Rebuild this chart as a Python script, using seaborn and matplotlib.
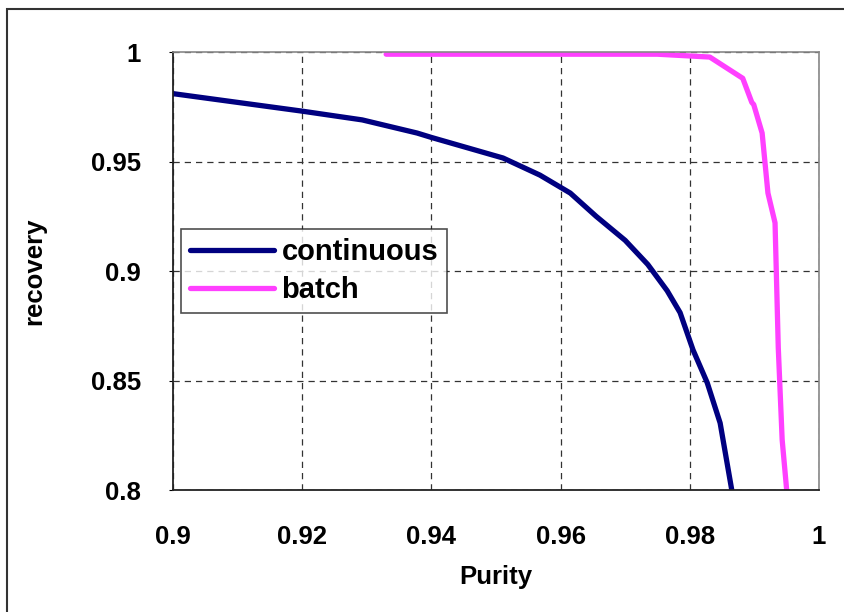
import matplotlib
matplotlib.use("Agg")
import matplotlib.pyplot as plt
import seaborn as sns
import pandas as pd
from matplotlib.patches import Rectangle

# values
cont_purity = [0.900, 0.910, 0.920, 0.9293, 0.9378, 0.940, 0.9511, 0.9568, 0.9615,
               0.9655, 0.970, 0.9735, 0.9765, 0.9785, 0.9805, 0.9827, 0.9847, 0.9865]
cont_recovery = [0.981, 0.977, 0.973, 0.969, 0.963, 0.961, 0.9516, 0.9438, 0.9356,
                 0.925, 0.914, 0.903, 0.891, 0.881, 0.864, 0.849, 0.8306, 0.800]

batch_purity = [0.933, 0.950, 0.975, 0.9831, 0.9882, 0.9896, 0.9899, 0.9912, 0.9921,
                0.9932, 0.9937, 0.9943, 0.9950]
batch_recovery = [0.999, 0.999, 0.999, 0.9977, 0.988, 0.977, 0.976, 0.963, 0.9356,
                  0.922, 0.865, 0.823, 0.800]

x_ticks = [0.9, 0.92, 0.94, 0.96, 0.98, 1]
x_tick_labels = ["0.9", "0.92", "0.94", "0.96", "0.98", "1"]
y_ticks = [0.8, 0.85, 0.9, 0.95, 1]
y_tick_labels = ["0.8", "0.85", "0.9", "0.95", "1"]

df = pd.concat([
    pd.DataFrame({"Purity": cont_purity, "recovery": cont_recovery, "series": "continuous"}),
    pd.DataFrame({"Purity": batch_purity, "recovery": batch_recovery, "series": "batch"}),
])

sns.set_style("white")
plt.rcParams['font.family'] = ['Liberation Sans Narrow', 'Liberation Sans', 'DejaVu Sans']
plt.rcParams['font.weight'] = 'bold'
plt.rcParams['text.color'] = 'black'
plt.rcParams['axes.labelcolor'] = 'black'
plt.rcParams['xtick.color'] = 'black'
plt.rcParams['ytick.color'] = 'black'

fig = plt.figure(figsize=(8.45, 6.12), dpi=100)
ax = fig.add_axes([0.2047, 0.1993, 0.7645, 0.7157])

# outer frame of the chart area (only top/left visible in the reference)
fig.patches.append(Rectangle((7 / 845, -0.1), 1.2, 1 - 9 / 612 + 0.1,
                             transform=fig.transFigure, fill=False,
                             edgecolor='#333333', linewidth=1.5))

sns.lineplot(data=df, x="Purity", y="recovery", hue="series", sort=False,
             palette={"continuous": "#000080", "batch": "#FF40FF"},
             linewidth=3.8, ax=ax, legend=False)

ax.set_xlim(0.9, 1.0)
ax.set_ylim(0.8, 1.0)
ax.set_xticks(x_ticks)
ax.set_xticklabels(x_tick_labels)
ax.set_yticks(y_ticks)
ax.set_yticklabels(y_tick_labels)
ax.tick_params(labelsize=18.5, length=3, direction='out', left=True, bottom=False)
ax.tick_params(axis='x', pad=22)
ax.tick_params(axis='y', pad=20)
ax.grid(True, linestyle=(0, (5, 4)), color='#333333', linewidth=0.9)

for s in ['left', 'bottom']:
    ax.spines[s].set_color('#222222')
    ax.spines[s].set_linewidth(1.3)
for s in ['top', 'right']:
    ax.spines[s].set_color('#888888')
    ax.spines[s].set_linewidth(1.2)

ax.set_xlabel("Purity", fontsize=18.5, fontweight='bold', labelpad=12)
ax.set_ylabel("recovery", fontsize=18.5, fontweight='bold', labelpad=32)

lines = ax.get_lines()
leg = ax.legend(lines[:2], ["continuous", "batch"], loc='upper left',
                bbox_to_anchor=(0.0124, 0.596), fontsize=21, frameon=True,
                fancybox=False, handlelength=2.9, handletextpad=0.25,
                borderpad=0.3, labelspacing=0.35, borderaxespad=0)
leg.get_frame().set_edgecolor('#222222')
leg.get_frame().set_linewidth(1.2)

fig.savefig("out.png", dpi=100)
